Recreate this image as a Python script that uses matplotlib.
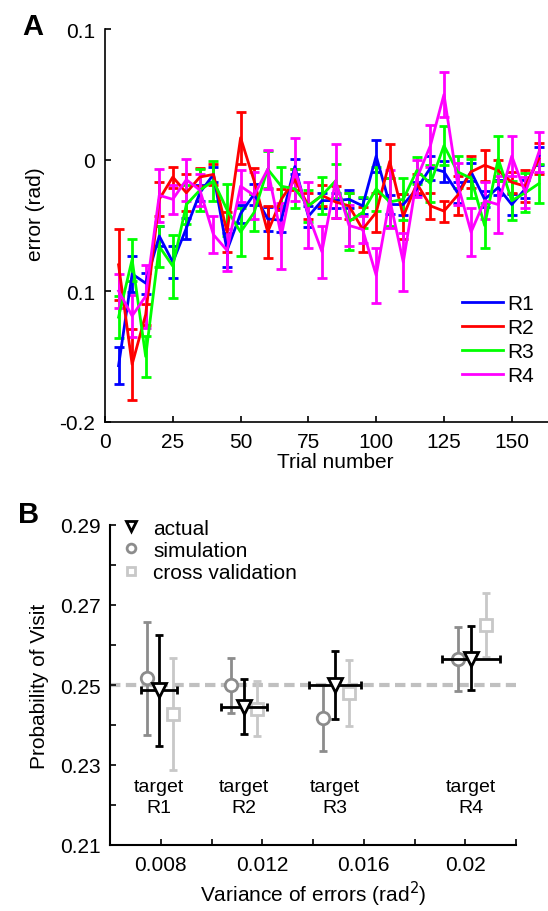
import numpy as np
import matplotlib
matplotlib.use('Agg')
import matplotlib.pyplot as plt
from matplotlib.lines import Line2D

plt.rcParams['font.family'] = ['Liberation Sans', 'DejaVu Sans']

# ---- Panel A: error por ensayo ----
trials = np.arange(5, 165, 5)

r1 = [-0.157, -0.087, -0.094, -0.058, -0.078, -0.052, -0.025, -0.011, -0.069, -0.041,
      -0.026, -0.045, -0.046, -0.005, -0.043, -0.031, -0.031, -0.030, -0.035, 0.003,
      -0.034, -0.034, -0.022, -0.006, -0.009, -0.025, -0.009, -0.030, -0.021, -0.034,
      -0.022, 0.003]
r1_err = [0.014, 0.014, 0.008, 0.008, 0.012, 0.008, 0.006, 0.006, 0.013, 0.007,
          0.008, 0.009, 0.009, 0.006, 0.008, 0.006, 0.006, 0.007, 0.006, 0.012,
          0.007, 0.008, 0.005, 0.009, 0.008, 0.008, 0.007, 0.006, 0.006, 0.008,
          0.007, 0.007]

r2 = [-0.080, -0.156, -0.118, -0.030, -0.013, -0.025, -0.013, -0.011, -0.055, 0.017,
      -0.016, -0.055, -0.030, -0.015, -0.035, -0.027, -0.032, -0.035, -0.053, -0.040,
      -0.001, -0.043, -0.018, -0.035, -0.039, -0.027, -0.009, -0.004, -0.008, -0.017,
      -0.020, 0.001]
r2_err = [0.027, 0.027, 0.008, 0.013, 0.008, 0.014, 0.007, 0.008, 0.015, 0.020,
          0.010, 0.020, 0.008, 0.008, 0.010, 0.008, 0.012, 0.010, 0.017, 0.015,
          0.013, 0.017, 0.007, 0.010, 0.008, 0.015, 0.012, 0.012, 0.008, 0.008,
          0.012, 0.012]

r3 = [-0.120, -0.076, -0.150, -0.066, -0.081, -0.034, -0.023, -0.016, -0.038, -0.055,
      -0.040, -0.007, -0.020, -0.022, -0.035, -0.027, -0.016, -0.047, -0.040, -0.022,
      -0.032, -0.030, -0.008, -0.018, 0.011, -0.009, -0.014, -0.050, 0.001, -0.031,
      -0.025, -0.018]
r3_err = [0.016, 0.016, 0.016, 0.016, 0.024, 0.015, 0.016, 0.015, 0.020, 0.018,
          0.014, 0.014, 0.015, 0.015, 0.012, 0.014, 0.013, 0.022, 0.012, 0.017,
          0.018, 0.016, 0.010, 0.014, 0.015, 0.012, 0.015, 0.017, 0.017, 0.015,
          0.015, 0.015]

r4 = [-0.100, -0.119, -0.104, -0.027, -0.030, -0.015, -0.023, -0.057, -0.069, -0.020,
      -0.027, -0.007, -0.058, -0.007, -0.042, -0.070, -0.016, -0.050, -0.053, -0.088,
      -0.030, -0.078, -0.014, 0.011, 0.050, -0.018, -0.055, -0.031, -0.034, 0.003,
      -0.025, 0.006]
r4_err = [0.013, 0.016, 0.024, 0.020, 0.011, 0.016, 0.012, 0.014, 0.016, 0.012,
          0.018, 0.015, 0.025, 0.024, 0.025, 0.020, 0.028, 0.016, 0.010, 0.021,
          0.022, 0.022, 0.014, 0.016, 0.017, 0.016, 0.018, 0.014, 0.022, 0.015,
          0.012, 0.015]

series_a = [('R1', r1, r1_err, '#0000ff'),
            ('R2', r2, r2_err, '#ff0000'),
            ('R3', r3, r3_err, '#00ff00'),
            ('R4', r4, r4_err, '#ff00ff')]

# ---- Panel B: probabilidad de visita ----
targets = ['R1', 'R2', 'R3', 'R4']
var_actual = [0.00793, 0.01127, 0.01487, 0.02021]
var_xerr = [0.0007, 0.0009, 0.00103, 0.00114]
p_actual = [0.2487, 0.2445, 0.2499, 0.2566]
p_actual_lo = [0.2347, 0.2377, 0.2416, 0.2487]
p_actual_hi = [0.2626, 0.2514, 0.2584, 0.2647]

var_sim = [0.00745, 0.01075, 0.01441, 0.01970]
p_sim = [0.2517, 0.2499, 0.2418, 0.2566]
p_sim_lo = [0.2374, 0.2431, 0.2335, 0.2485]
p_sim_hi = [0.2657, 0.2567, 0.2499, 0.2646]

var_cv = [0.00848, 0.01180, 0.01542, 0.02081]
p_cv = [0.2427, 0.2441, 0.2480, 0.2651]
p_cv_lo = [0.2287, 0.2373, 0.2397, 0.2570]
p_cv_hi = [0.2567, 0.2510, 0.2563, 0.2730]

fig = plt.figure(figsize=(5.48, 9.12), dpi=100)

# ================= A =================
axA = fig.add_axes([105 / 548, 1 - 423 / 912, 461 / 548, 393 / 912])
for name, y, e, c in series_a:
    axA.errorbar(trials, y, yerr=e, color=c, lw=2, elinewidth=2,
                 capsize=3.5, capthick=2)
axA.set_xlim(0, 170)
axA.set_ylim(-0.2, 0.1)
axA.set_yticks([0.1, 0, -0.1, -0.2])
axA.set_yticklabels(['0.1', '0', '0.1', '-0.2'])
axA.set_xticks([0, 25, 50, 75, 100, 125, 150])
axA.spines['top'].set_visible(False)
axA.spines['right'].set_visible(False)
for s in ['left', 'bottom']:
    axA.spines[s].set_linewidth(1.2)
axA.tick_params(direction='in', length=4, width=1.2, labelsize=15, pad=7)
axA.set_xlabel('Trial number', fontsize=15, labelpad=1)
axA.set_ylabel('error (rad)', fontsize=15)
axA.yaxis.set_label_coords(-0.13, 0.532)
handlesA = [Line2D([], [], color=c, lw=2) for _, _, _, c in series_a]
axA.legend(handlesA, [s[0] for s in series_a], loc='upper left',
           bbox_to_anchor=(0.774, 0.325), frameon=False,
           fontsize=15, handlelength=2.0, handletextpad=0.2,
           labelspacing=0.24, borderpad=0, borderaxespad=0)
fig.text(22 / 548, 1 - 27 / 912, 'A', fontsize=21, fontweight='bold',
         va='center', ha='left')

# ================= B =================
axB = fig.add_axes([110 / 548, 1 - 846 / 912, 406 / 548, 320 / 912])
axB.axhline(0.25, color='#c0c0c0', lw=3, ls=(0, (2.5, 1.3)), zorder=1)

lo = np.array(p_sim) - np.array(p_sim_lo)
hi = np.array(p_sim_hi) - np.array(p_sim)
axB.errorbar(var_sim, p_sim, yerr=[lo, hi], fmt='none', ecolor='#8c8c8c',
             elinewidth=2, capsize=3, capthick=2, zorder=2)
axB.plot(var_sim, p_sim, 'o', ms=9, mfc='white', mec='#8c8c8c', mew=2,
         zorder=3, label='simulation')

lo = np.array(p_cv) - np.array(p_cv_lo)
hi = np.array(p_cv_hi) - np.array(p_cv)
axB.errorbar(var_cv, p_cv, yerr=[lo, hi], fmt='none', ecolor='#c8c8c8',
             elinewidth=2, capsize=3, capthick=2, zorder=2)
axB.plot(var_cv, p_cv, 's', ms=8.5, mfc='white', mec='#c8c8c8', mew=2,
         zorder=3, label='cross validation')

lo = np.array(p_actual) - np.array(p_actual_lo)
hi = np.array(p_actual_hi) - np.array(p_actual)
axB.errorbar(var_actual, p_actual, yerr=[lo, hi], xerr=var_xerr, fmt='none',
             ecolor='black', elinewidth=2, capsize=3, capthick=2, zorder=4)
axB.plot(var_actual, p_actual, 'v', ms=10, mfc='white', mec='black', mew=2,
         zorder=5, label='actual')

for xv, t in zip(var_actual, targets):
    axB.text(xv, 0.222, 'target\n' + t, ha='center', va='center',
             fontsize=14, linespacing=1.3)

axB.set_xlim(0.006, 0.022)
axB.set_ylim(0.21, 0.29)
axB.set_xticks(np.arange(0.006, 0.0221, 0.002))
axB.set_xticklabels(['', '0.008', '', '0.012', '', '0.016', '', '0.02', ''])
axB.set_yticks(np.arange(0.21, 0.2901, 0.01))
axB.set_yticklabels(['0.21', '', '0.23', '', '0.25', '', '0.27', '', '0.29'])
axB.spines['top'].set_visible(False)
axB.spines['right'].set_visible(False)
for s in ['left', 'bottom']:
    axB.spines[s].set_linewidth(1.5)
axB.tick_params(direction='in', length=4, width=1.2, labelsize=15, pad=7)
axB.set_xlabel('Variance of errors (rad$^2$)', fontsize=15, labelpad=4)
axB.set_ylabel('Probability of Visit', fontsize=15)
axB.yaxis.set_label_coords(-0.15, 0.5)

handles, labels = axB.get_legend_handles_labels()
order = [2, 0, 1]
axB.legend([handles[i] for i in order], [labels[i] for i in order],
           loc='upper left', bbox_to_anchor=(0.025, 1.02), frameon=False,
           fontsize=15, markerscale=0.7, handlelength=1.0, handletextpad=0.6,
           labelspacing=0.15, borderpad=0, borderaxespad=0)
fig.text(18 / 548, 1 - 515 / 912, 'B', fontsize=21, fontweight='bold',
         va='center', ha='left')

fig.savefig('out.png', dpi=100)
